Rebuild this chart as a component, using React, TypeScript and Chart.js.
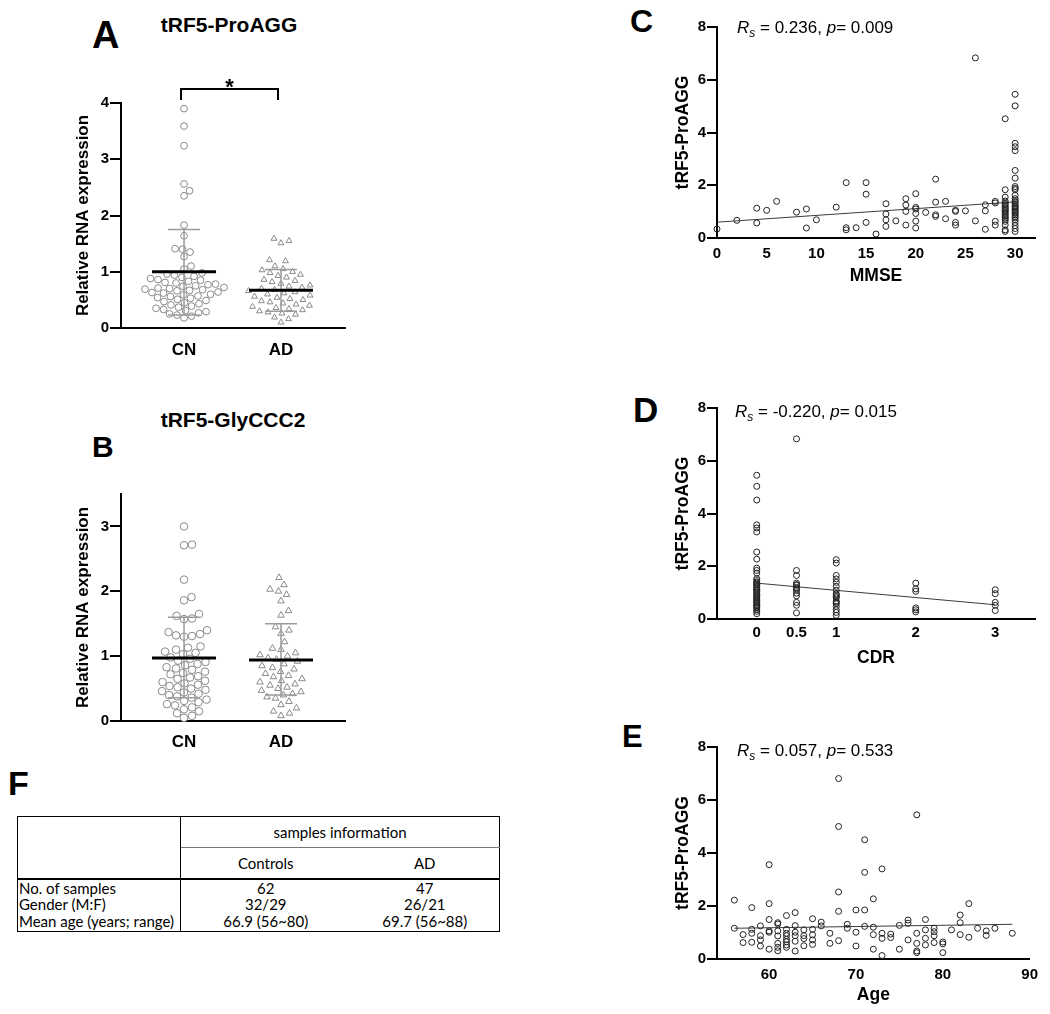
import React, { useEffect, useRef } from "react";
import { Chart, registerables } from "chart.js";

Chart.register(...registerables);

const SANS = '"Liberation Sans", Arial, Helvetica, sans-serif';
const TABLE_FONT = 'Lato, "Open Sans", sans-serif';

// ---------------- Panel A : tRF5-ProAGG (CN vs AD) ----------------
const A_TITLE = "tRF5-ProAGG";
const GROUPS = ["CN", "AD"];
const A_CN = [
  3.9, 3.59, 3.24, 2.56, 2.44, 2.35, 1.83, 1.64, 1.41, 1.4, 1.35, 1.27, 1.1, 1.05,
  0.98, 0.96, 0.94, 0.92, 0.9, 0.88, 0.86, 0.85, 0.83, 0.81, 0.8, 0.78, 0.77, 0.75,
  0.74, 0.72, 0.71, 0.7, 0.69, 0.68, 0.67, 0.66, 0.64, 0.63, 0.62, 0.6, 0.59, 0.57,
  0.56, 0.54, 0.53, 0.51, 0.49, 0.47, 0.45, 0.43, 0.41, 0.39, 0.37, 0.35, 0.33, 0.31,
  0.29, 0.27, 0.25, 0.23, 0.21, 0.18,
];
const A_AD = [
  1.59, 1.55, 1.51, 1.21, 1.19, 1.1, 1.05, 1.03, 1.0, 0.98, 0.95, 0.93, 0.9, 0.86,
  0.84, 0.82, 0.79, 0.76, 0.74, 0.72, 0.7, 0.68, 0.66, 0.64, 0.62, 0.6, 0.58, 0.56,
  0.54, 0.52, 0.5, 0.48, 0.46, 0.44, 0.42, 0.4, 0.38, 0.36, 0.34, 0.32, 0.3, 0.28,
  0.26, 0.24, 0.19, 0.16, 0.1,
];
const A_MEAN = [1.0, 0.67];
const A_SD_LOW = [0.23, 0.3];
const A_SD_HIGH = [1.75, 1.04];
const A_Y_TICKS = [0, 1, 2, 3, 4];

// ---------------- Panel B : tRF5-GlyCCC2 ----------------
const B_TITLE = "tRF5-GlyCCC2";
const B_CN = [
  3.0, 2.72, 2.71, 2.18, 1.91, 1.86, 1.65, 1.62, 1.58, 1.57, 1.4, 1.37, 1.34, 1.32,
  1.31, 1.3, 1.15, 1.13, 1.1, 1.07, 1.05, 1.03,
  0.98, 0.96, 0.93, 0.91, 0.88, 0.86, 0.83, 0.81, 0.79, 0.76, 0.74, 0.72, 0.69, 0.67,
  0.65, 0.62, 0.6, 0.58, 0.56, 0.54, 0.52, 0.5, 0.48, 0.46, 0.44, 0.42, 0.4, 0.38,
  0.36, 0.33, 0.31, 0.29, 0.26, 0.24, 0.21, 0.18, 0.15, 0.12, 0.08, 0.05,
];
const B_AD = [
  2.21, 2.1, 2.03, 2.0, 1.95, 1.85, 1.7, 1.63, 1.45, 1.4, 1.35, 1.22, 1.12, 1.1,
  1.05, 1.02, 1.0, 0.97, 0.95, 0.92, 0.88, 0.85, 0.82, 0.8, 0.76, 0.73, 0.7, 0.68,
  0.65, 0.62, 0.6, 0.57, 0.55, 0.52, 0.5, 0.47, 0.45, 0.42, 0.4, 0.37, 0.35, 0.3,
  0.25, 0.2, 0.15, 0.12, 0.08,
];
const B_MEAN = [0.97, 0.94];
const B_SD_LOW = [0.36, 0.4];
const B_SD_HIGH = [1.6, 1.5];
const B_Y_TICKS = [0, 1, 2, 3];

// ---------------- Panels C, D, E : correlations ----------------
const CORR_Y_TITLE = "tRF5-ProAGG";
const CORR_Y_TICKS = [0, 2, 4, 6, 8];

const C_MMSE = [0, 2, 4, 5, 6, 8, 9, 10, 12, 13, 14, 15, 16, 17, 18, 19, 20, 21, 22, 23, 24, 25, 26, 27, 28, 29, 30];
const C_VALUES = [
  [0.34],
  [0.67],
  [1.13, 0.57],
  [1.05],
  [1.39],
  [0.98],
  [1.1, 0.38],
  [0.69],
  [1.17],
  [2.1, 0.39, 0.31],
  [0.39],
  [2.1, 1.66, 0.59],
  [0.15],
  [1.3, 0.91, 0.69, 0.44],
  [0.65],
  [1.49, 1.25, 1.01, 0.49],
  [1.68, 1.16, 1.1, 0.93, 0.64, 0.38],
  [0.97],
  [2.23, 1.36, 0.88, 0.82],
  [1.39, 0.73],
  [1.05, 1.01, 0.59, 0.49],
  [1.03],
  [6.83, 0.65],
  [1.26, 1.03, 0.33],
  [1.39, 1.33, 0.63, 0.49],
  [4.52, 1.83, 1.55, 1.4, 1.32, 1.27, 1.2, 1.15, 1.1, 1.05, 1.0, 0.94, 0.88, 0.82, 0.76, 0.7, 0.63, 0.5, 0.31, 0.25],
  [5.45, 5.01, 3.59, 3.46, 3.31, 2.56, 2.27, 1.95, 1.88, 1.83, 1.62, 1.49, 1.42, 1.36, 1.3, 1.23, 1.18, 1.13, 1.08, 1.03, 0.98, 0.94, 0.88, 0.82, 0.76, 0.69, 0.59, 0.47, 0.36, 0.25],
];
const C_FIT_X = [0, 30];
const C_FIT_Y = [0.6, 1.37];
const C_X_TICKS = [0, 5, 10, 15, 20, 25, 30];
const C_STATS = ["0.236", "0.009"];

const D_CDR = [0, 0.5, 1, 2, 3];
const D_VALUES = [
  [5.45, 5.03, 4.51, 3.57, 3.45, 3.3, 2.54, 2.27, 1.93, 1.84, 1.74, 1.53, 1.46, 1.4, 1.36, 1.3, 1.28, 1.22, 1.17, 1.12, 1.09, 1.03, 0.98, 0.93, 0.88, 0.84, 0.8, 0.75, 0.71, 0.66, 0.61, 0.55, 0.5, 0.46, 0.42, 0.35, 0.29, 0.2],
  [6.83, 1.84, 1.65, 1.36, 1.3, 1.28, 1.2, 1.15, 1.09, 0.98, 0.88, 0.63, 0.52, 0.23],
  [2.25, 2.12, 1.65, 1.52, 1.39, 1.24, 1.09, 0.95, 0.91, 0.85, 0.8, 0.67, 0.63, 0.58, 0.48, 0.35, 0.25, 0.14],
  [1.36, 1.14, 1.05, 0.42, 0.35, 0.27],
  [1.11, 0.96, 0.63, 0.52, 0.32],
];
const D_FIT_X = [0, 3];
const D_FIT_Y = [1.36, 0.54];
const D_X_TICKS = [0, 0.5, 1, 2, 3];
const D_STATS = ["-0.220", "0.015"];

const E_AGE = [56, 57, 58, 59, 60, 61, 62, 63, 64, 65, 66, 67, 68, 69, 70, 71, 72, 73, 74, 75, 76, 77, 78, 79, 80, 81, 82, 83, 84, 85, 86, 88];
const E_VALUES = [
  [2.22, 1.16],
  [0.92, 0.62],
  [1.94, 1.12, 0.97, 0.63],
  [1.25, 0.88, 0.72, 0.49],
  [3.56, 2.09, 1.49, 1.06, 1.01, 0.37],
  [1.37, 1.32, 1.06, 0.87, 0.59, 0.44, 0.31],
  [1.64, 1.12, 0.97, 0.88, 0.74, 0.65, 0.53, 0.44],
  [1.75, 1.26, 1.01, 0.88, 0.67, 0.3],
  [1.1, 0.88, 0.77, 0.5],
  [1.52, 1.12, 0.91, 0.72, 0.55],
  [1.39, 1.25],
  [0.97, 0.59],
  [6.81, 5.0, 2.53, 1.8, 0.69],
  [1.31, 1.16],
  [1.85, 1.01, 0.49],
  [4.5, 3.27, 1.85, 1.23],
  [2.27, 1.2, 0.92, 0.37],
  [3.4, 0.97, 0.78, 0.13],
  [0.94, 0.81],
  [1.27, 0.37],
  [1.47, 1.35, 0.72],
  [5.44, 0.97, 0.59, 0.3, 0.24],
  [1.49, 1.1, 0.78, 0.53],
  [1.16, 1.03, 0.88, 0.62],
  [0.64, 0.57, 0.24],
  [1.1],
  [1.66, 1.37, 0.92],
  [2.09, 0.82],
  [1.16],
  [1.06, 0.89],
  [1.16],
  [0.97],
];
const E_FIT_X = [56, 88];
const E_FIT_Y = [1.16, 1.31];
const E_X_TICKS = [60, 70, 80, 90];
const E_STATS = ["0.057", "0.533"];

// ---------------- Panel F : table ----------------
const F_HEADER = "samples information";
const F_GROUPS = ["Controls", "AD"];
const F_ROWS = ["No. of samples", "Gender (M:F)", "Mean age (years; range)"];
const F_CONTROLS = ["62", "32/29", "66.9 (56~80)"];
const F_AD = ["47", "26/21", "69.7 (56~88)"];

// ---------------- helpers ----------------
// Beeswarm layout: horizontal offsets (in data units) so that markers do not overlap.
function swarmOffsets(values: number[], pxPerY: number, pxPerX: number, diam: number): number[] {
  const order = values.map((_, i) => i).sort((a, b) => values[a] - values[b]);
  const placed: { x: number; y: number }[] = [];
  const out: number[] = new Array(values.length).fill(0);
  const d2 = diam * diam;
  for (const i of order) {
    const y = values[i] * pxPerY;
    let chosen = 0;
    for (let k = 0; k < 400; k++) {
      const step = Math.ceil(k / 2) * 0.5;
      const cand = k % 2 === 1 ? step : -step;
      if (placed.every((p) => (p.x - cand) ** 2 + (p.y - y) ** 2 >= d2)) {
        chosen = cand;
        break;
      }
    }
    placed.push({ x: chosen, y });
    out[i] = chosen / pxPerX;
  }
  return out;
}

const tickFont = { family: SANS, size: 15, weight: "bold" as const };
const titleFont = { family: SANS, size: 17.5, weight: "bold" as const };

type DotOpts = {
  cn: number[];
  ad: number[];
  mean: number[];
  lo: number[];
  hi: number[];
  yMax: number;
  yTicks: number[];
  chartH: number;
  radius: number;
  diamCN: number;
  diamAD: number;
  bracket: boolean;
  padTop: number;
  xLabelPad: number;
};

const X_MIN_DOT = 0.35;
const X_MAX_DOT = 2.66;

function dotConfig(o: DotOpts): any {
  const pxX = 224 / (X_MAX_DOT - X_MIN_DOT);
  const pxY = o.chartH / o.yMax;
  const offCN = swarmOffsets(o.cn, pxY, pxX, o.diamCN);
  const offAD = swarmOffsets(o.ad, pxY, pxX, o.diamAD);
  const summary = {
    id: "summary",
    afterDatasetsDraw(chart: any) {
      const { ctx, scales } = chart;
      const x = scales.x;
      const y = scales.y;
      ctx.save();
      [1, 2].forEach((c, i) => {
        const cx = x.getPixelForValue(c);
        ctx.strokeStyle = "#9b9b9b";
        ctx.lineWidth = 1.5;
        ctx.beginPath();
        ctx.moveTo(cx, y.getPixelForValue(o.lo[i]));
        ctx.lineTo(cx, y.getPixelForValue(o.hi[i]));
        [o.lo[i], o.hi[i]].forEach((v) => {
          const py = y.getPixelForValue(v);
          ctx.moveTo(x.getPixelForValue(c - 0.165), py);
          ctx.lineTo(x.getPixelForValue(c + 0.165), py);
        });
        ctx.stroke();
        ctx.strokeStyle = "#000";
        ctx.lineWidth = 3;
        ctx.beginPath();
        const my = y.getPixelForValue(o.mean[i]);
        ctx.moveTo(x.getPixelForValue(c - 0.33), my);
        ctx.lineTo(x.getPixelForValue(c + 0.33), my);
        ctx.stroke();
      });
      if (o.bracket) {
        const x1 = x.getPixelForValue(1) - 3;
        const x2 = x.getPixelForValue(2) - 3;
        const top = y.getPixelForValue(o.yMax) - 14;
        ctx.strokeStyle = "#000";
        ctx.lineWidth = 2;
        ctx.beginPath();
        ctx.moveTo(x1, top + 11);
        ctx.lineTo(x1, top);
        ctx.lineTo(x2, top);
        ctx.lineTo(x2, top + 11);
        ctx.stroke();
        ctx.fillStyle = "#000";
        ctx.font = `bold 22px ${SANS}`;
        ctx.textAlign = "center";
        ctx.textBaseline = "alphabetic";
        ctx.fillText("*", (x1 + x2) / 2, top + 5);
      }
      ctx.restore();
    },
  };
  return {
    type: "scatter",
    data: {
      datasets: [
        {
          data: o.cn.map((v, i) => ({ x: 1 + offCN[i], y: v })),
          pointStyle: "circle",
          pointRadius: o.radius,
          pointBorderColor: "#8a8a8a",
          pointBackgroundColor: "#ffffff",
          pointBorderWidth: 1,
          clip: false,
        },
        {
          data: o.ad.map((v, i) => ({ x: 2 + offAD[i], y: v })),
          pointStyle: "triangle",
          pointRadius: o.radius,
          pointBorderColor: "#8a8a8a",
          pointBackgroundColor: "#ffffff",
          pointBorderWidth: 1,
          clip: false,
        },
      ],
    },
    options: {
      responsive: false,
      animation: false,
      devicePixelRatio: 1,
      events: [],
      layout: { padding: { top: o.padTop, right: 10, left: 0, bottom: 0 } },
      plugins: { legend: { display: false }, tooltip: { enabled: false } },
      scales: {
        x: {
          type: "linear",
          min: X_MIN_DOT,
          max: X_MAX_DOT,
          afterBuildTicks: (s: any) => {
            s.ticks = [{ value: 1 }, { value: 2 }];
          },
          ticks: {
            autoSkip: false,
            maxRotation: 0,
            padding: o.xLabelPad,
            color: "#000",
            font: { family: SANS, size: 17, weight: "bold" },
            callback: (v: number) => GROUPS[Math.round(v) - 1],
          },
          grid: { drawOnChartArea: false, drawTicks: false },
          border: { color: "#000", width: 2 },
          afterFit: (s: any) => {
            s.height = 40;
          },
        },
        y: {
          type: "linear",
          min: 0,
          max: o.yMax,
          afterBuildTicks: (s: any) => {
            s.ticks = o.yTicks.map((v) => ({ value: v }));
          },
          ticks: { padding: 1, color: "#000", font: tickFont, callback: (v: number) => String(v) },
          grid: { drawOnChartArea: false, drawTicks: true, tickLength: 11, color: "#000", lineWidth: 2 },
          border: { color: "#000", width: 2 },
          title: {
            display: true,
            text: "Relative RNA expression",
            color: "#000",
            font: { family: SANS, size: 17, weight: "bold" },
            padding: { top: 13, bottom: 0 },
          },
          afterFit: (s: any) => {
            s.width = 61;
          },
        },
      },
    },
    plugins: [summary],
  };
}

type CorrOpts = {
  xs: number[];
  groups: number[][];
  fitX: number[];
  fitY: number[];
  xMin: number;
  xMax: number;
  xTicks: number[];
  xTitle: string;
  padTop: number;
  xAxisH: number;
  xLabelPad: number;
  xTitlePad: number;
};

function corrConfig(o: CorrOpts): any {
  const pts = o.xs.flatMap((x, i) => o.groups[i].map((y) => ({ x, y })));
  return {
    type: "scatter",
    data: {
      datasets: [
        {
          data: pts,
          pointRadius: 3,
          pointBorderColor: "#222",
          pointBackgroundColor: "rgba(0,0,0,0)",
          pointBorderWidth: 1,
          clip: false,
        },
        {
          data: o.fitX.map((x, i) => ({ x, y: o.fitY[i] })),
          showLine: true,
          borderColor: "#3c3c3c",
          borderWidth: 1,
          pointRadius: 0,
          clip: false,
        },
      ],
    },
    options: {
      responsive: false,
      animation: false,
      devicePixelRatio: 1,
      events: [],
      layout: { padding: { top: o.padTop, right: 10, left: 0, bottom: 0 } },
      plugins: { legend: { display: false }, tooltip: { enabled: false } },
      scales: {
        x: {
          type: "linear",
          min: o.xMin,
          max: o.xMax,
          afterBuildTicks: (s: any) => {
            s.ticks = o.xTicks.map((v) => ({ value: v }));
          },
          ticks: {
            autoSkip: false,
            maxRotation: 0,
            padding: o.xLabelPad,
            color: "#000",
            font: tickFont,
            callback: (v: number) => String(v),
          },
          grid: { drawOnChartArea: false, drawTicks: false },
          border: { color: "#000", width: 2 },
          title: {
            display: true,
            text: o.xTitle,
            color: "#000",
            font: titleFont,
            padding: { top: 0, bottom: o.xTitlePad },
          },
          afterFit: (s: any) => {
            s.height = o.xAxisH;
          },
        },
        y: {
          type: "linear",
          min: 0,
          max: 8,
          afterBuildTicks: (s: any) => {
            s.ticks = CORR_Y_TICKS.map((v) => ({ value: v }));
          },
          ticks: { padding: 1, color: "#000", font: tickFont, callback: (v: number) => String(v) },
          grid: { drawOnChartArea: false, drawTicks: true, tickLength: 10, color: "#000", lineWidth: 2 },
          border: { color: "#000", width: 2 },
          title: {
            display: true,
            text: CORR_Y_TITLE,
            color: "#000",
            font: titleFont,
            padding: { top: 7.5, bottom: 0 },
          },
          afterFit: (s: any) => {
            s.width = 52;
          },
        },
      },
    },
  };
}

function ChartBox(props: { left: number; top: number; width: number; height: number; make: () => any }) {
  const ref = useRef<HTMLCanvasElement>(null);
  useEffect(() => {
    const chart = new Chart(ref.current as HTMLCanvasElement, props.make());
    return () => chart.destroy();
  }, []);
  return (
    <canvas
      ref={ref}
      width={props.width}
      height={props.height}
      style={{ position: "absolute", left: props.left, top: props.top, width: props.width, height: props.height }}
    />
  );
}

function Txt(props: { left: number; top: number; size: number; bold?: boolean; children: any; width?: number; center?: boolean }) {
  return (
    <div
      style={{
        position: "absolute",
        left: props.left,
        top: props.top,
        width: props.width,
        textAlign: props.center ? "center" : "left",
        fontFamily: SANS,
        fontSize: props.size,
        fontWeight: props.bold ? "bold" : "normal",
        lineHeight: 1,
        whiteSpace: "nowrap",
        color: "#000",
      }}
    >
      {props.children}
    </div>
  );
}

function Stat(props: { left: number; top: number; stats: string[] }) {
  return (
    <Txt left={props.left} top={props.top} size={17}>
      <i>R</i>
      <span style={{ fontSize: 12, fontStyle: "italic", position: "relative", top: 4 }}>s</span>
      {" = " + props.stats[0] + ", "}
      <i>p</i>
      {"= " + props.stats[1]}
    </Txt>
  );
}

const cell = (extra: any) => ({
  padding: 0,
  fontFamily: TABLE_FONT,
  fontSize: 15,
  color: "#000",
  lineHeight: "16px",
  whiteSpace: "nowrap",
  ...extra,
});

export default function App() {
  return (
    <div
      style={{
        position: "absolute",
        left: 0,
        top: 0,
        width: 1050,
        height: 1014,
        background: "#fff",
        overflow: "hidden",
      }}
    >
      {/* Panel letters and titles */}
      <Txt left={92} top={16} size={38} bold>A</Txt>
      <Txt left={129} top={14} size={21} bold width={200} center>{A_TITLE}</Txt>
      <Txt left={92} top={432} size={30} bold>B</Txt>
      <Txt left={133} top={409} size={21} bold width={200} center>{B_TITLE}</Txt>
      <Txt left={630} top={5} size={32} bold>C</Txt>
      <Txt left={633} top={392} size={35} bold>D</Txt>
      <Txt left={622} top={721} size={31} bold>E</Txt>
      <Txt left={8} top={766} size={34} bold>F</Txt>

      <ChartBox
        left={60}
        top={70}
        width={295}
        height={298}
        make={() =>
          dotConfig({
            cn: A_CN,
            ad: A_AD,
            mean: A_MEAN,
            lo: A_SD_LOW,
            hi: A_SD_HIGH,
            yMax: 4,
            yTicks: A_Y_TICKS,
            chartH: 225,
            radius: 3.4,
            diamCN: 7.4,
            diamAD: 8.2,
            bracket: true,
            padTop: 33,
            xLabelPad: 12,
          })
        }
      />
      <ChartBox
        left={60}
        top={480}
        width={295}
        height={281}
        make={() =>
          dotConfig({
            cn: B_CN,
            ad: B_AD,
            mean: B_MEAN,
            lo: B_SD_LOW,
            hi: B_SD_HIGH,
            yMax: 3.5,
            yTicks: B_Y_TICKS,
            chartH: 227,
            radius: 3.8,
            diamCN: 8,
            diamAD: 8.5,
            bracket: false,
            padTop: 14,
            xLabelPad: 11,
          })
        }
      />

      <ChartBox
        left={665}
        top={10}
        width={380}
        height={280}
        make={() =>
          corrConfig({
            xs: C_MMSE,
            groups: C_VALUES,
            fitX: C_FIT_X,
            fitY: C_FIT_Y,
            xMin: 0,
            xMax: 32,
            xTicks: C_X_TICKS,
            xTitle: "MMSE",
            padTop: 17,
            xAxisH: 52,
            xLabelPad: 7,
            xTitlePad: 3.5,
          })
        }
      />
      <ChartBox
        left={665}
        top={390}
        width={380}
        height={282}
        make={() =>
          corrConfig({
            xs: D_CDR,
            groups: D_VALUES,
            fitX: D_FIT_X,
            fitY: D_FIT_Y,
            xMin: -0.5,
            xMax: 3.5,
            xTicks: D_X_TICKS,
            xTitle: "CDR",
            padTop: 18,
            xAxisH: 53,
            xLabelPad: 5,
            xTitlePad: 3.5,
          })
        }
      />
      <ChartBox
        left={665}
        top={728}
        width={380}
        height={284}
        make={() =>
          corrConfig({
            xs: E_AGE,
            groups: E_VALUES,
            fitX: E_FIT_X,
            fitY: E_FIT_Y,
            xMin: 54,
            xMax: 90,
            xTicks: E_X_TICKS,
            xTitle: "Age",
            padTop: 19,
            xAxisH: 53,
            xLabelPad: 7,
            xTitlePad: 6,
          })
        }
      />

      <Stat left={737} top={19} stats={C_STATS} />
      <Stat left={735} top={403} stats={D_STATS} />
      <Stat left={737} top={742} stats={E_STATS} />

      {/* Panel F table */}
      <table
        style={{
          position: "absolute",
          left: 17,
          top: 816,
          width: 482,
          borderCollapse: "collapse",
          tableLayout: "fixed",
          border: "1.5px solid #000",
        }}
      >
        <colgroup>
          <col style={{ width: 163 }} />
          <col style={{ width: 170 }} />
          <col style={{ width: 149 }} />
        </colgroup>
        <tbody>
          <tr style={{ height: 31 }}>
            <td rowSpan={2} style={cell({ borderRight: "1.5px solid #000", borderBottom: "2px solid #000" })}></td>
            <td colSpan={2} style={cell({ textAlign: "center", borderBottom: "1px solid #777" })}>
              {F_HEADER}
            </td>
          </tr>
          <tr style={{ height: 31 }}>
            <td style={cell({ textAlign: "center", borderBottom: "2px solid #000" })}>{F_GROUPS[0]}</td>
            <td style={cell({ textAlign: "center", borderBottom: "2px solid #000" })}>{F_GROUPS[1]}</td>
          </tr>
          {F_ROWS.map((r, i) => (
            <tr key={r} style={{ height: i === F_ROWS.length - 1 ? 19 : 17 }}>
              <td style={cell({ borderRight: "1.5px solid #000", paddingLeft: 1, verticalAlign: "top" })}>{r}</td>
              <td style={cell({ textAlign: "center", verticalAlign: "top" })}>{F_CONTROLS[i]}</td>
              <td style={cell({ textAlign: "center", verticalAlign: "top" })}>{F_AD[i]}</td>
            </tr>
          ))}
        </tbody>
      </table>
    </div>
  );
}
